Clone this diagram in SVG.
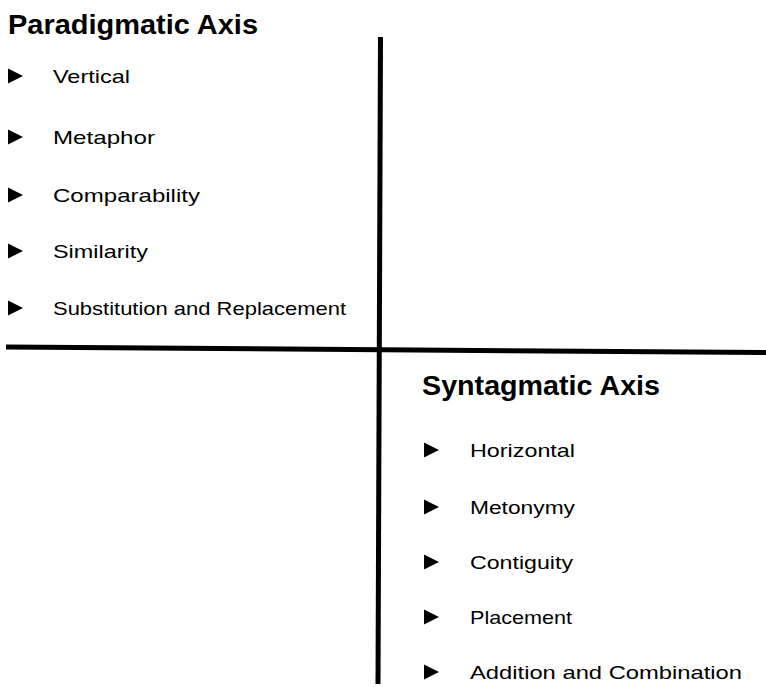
<svg xmlns="http://www.w3.org/2000/svg" width="766" height="687" viewBox="0 0 766 687">
<defs>
<style>
.title{font-family:"Liberation Sans",Arial,sans-serif;font-weight:bold;font-size:28px;fill:#000}
.item{font-family:"Liberation Sans",Arial,sans-serif;font-size:19px;fill:#000}
.axis{stroke:#000;stroke-width:5;fill:none}
.bul{fill:#000}
</style>
<polygon id="tri" points="0,-7.5 0,7.5 15,0" class="bul"/>
</defs>
<rect width="766" height="687" fill="#fff"/>
<g id="connectors">
<line class="axis" x1="380.5" y1="37" x2="378" y2="684"/>
<line class="axis" x1="6" y1="347" x2="766" y2="352.5"/>
</g>
<g id="paradigmatic">
<text class="title" x="8" y="34" textLength="250" lengthAdjust="spacingAndGlyphs">Paradigmatic Axis</text>
<g id="p1"><use href="#tri" x="8" y="76"/><text class="item" x="53" y="83" textLength="77" lengthAdjust="spacingAndGlyphs">Vertical</text></g>
<g id="p2"><use href="#tri" x="8" y="137"/><text class="item" x="53" y="144" textLength="102" lengthAdjust="spacingAndGlyphs">Metaphor</text></g>
<g id="p3"><use href="#tri" x="8" y="195"/><text class="item" x="53" y="202" textLength="147" lengthAdjust="spacingAndGlyphs">Comparability</text></g>
<g id="p4"><use href="#tri" x="8" y="251"/><text class="item" x="53" y="258" textLength="95" lengthAdjust="spacingAndGlyphs">Similarity</text></g>
<g id="p5"><use href="#tri" x="8" y="308"/><text class="item" x="53" y="315" textLength="293" lengthAdjust="spacingAndGlyphs">Substitution and Replacement</text></g>
</g>
<g id="syntagmatic">
<text class="title" x="422" y="395" textLength="238" lengthAdjust="spacingAndGlyphs">Syntagmatic Axis</text>
<g id="s1"><use href="#tri" x="424" y="450"/><text class="item" x="470" y="457" textLength="105" lengthAdjust="spacingAndGlyphs">Horizontal</text></g>
<g id="s2"><use href="#tri" x="424" y="507"/><text class="item" x="470" y="514" textLength="105" lengthAdjust="spacingAndGlyphs">Metonymy</text></g>
<g id="s3"><use href="#tri" x="424" y="562"/><text class="item" x="470" y="569" textLength="103" lengthAdjust="spacingAndGlyphs">Contiguity</text></g>
<g id="s4"><use href="#tri" x="424" y="617"/><text class="item" x="470" y="624" textLength="102" lengthAdjust="spacingAndGlyphs">Placement</text></g>
<g id="s5"><use href="#tri" x="424" y="672"/><text class="item" x="470" y="679" textLength="272" lengthAdjust="spacingAndGlyphs">Addition and Combination</text></g>
</g>
</svg>
